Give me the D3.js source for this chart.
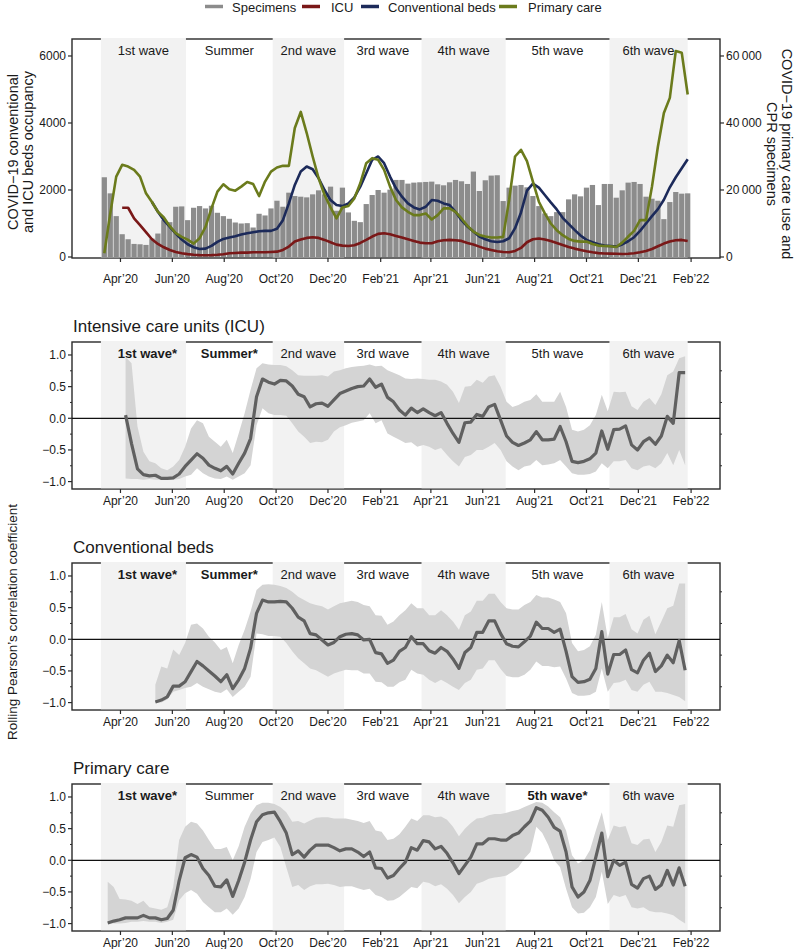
<!DOCTYPE html>
<html><head><meta charset="utf-8">
<script src="https://cdn.jsdelivr.net/npm/d3@7"></script>
<style>body{margin:0;background:#fff} svg{display:block;font-family:"Liberation Sans",Arial,Helvetica,sans-serif}</style>
</head><body><svg id="c" width="797" height="949"></svg>
<script>
// ---------- DATA ----------
const topStart = "2020-03-13";   // weekly points of the top panel
const corrStart = "2020-03-17";  // weekly points of the correlation panels

const specimens = [23800,19000,12200,6800,5300,3900,3800,3600,5500,7000,
11000,10400,15000,15100,11000,14700,15200,14500,15300,13200,
12200,11400,10300,10000,10100,8800,12900,12400,14500,16800,
15000,19200,18200,18000,17800,18700,19900,18700,21000,13800,
20700,13300,10800,10400,15800,18500,20000,19200,20100,23000,
23000,21900,22200,22300,22400,22500,21700,21400,22300,23000,
22600,21800,25500,19700,22900,24300,24400,16700,20700,21300,
21500,20800,18200,15200,13000,12200,13400,13400,17200,18700,
18100,20700,21500,15500,21800,21800,17700,19900,22200,22400,
21800,18000,17400,16800,11300,16400,19400,18900,19000];

const icuBeds = [null,null,null,1470,1470,1150,950,740,530,390,
290,210,150,110,85,65,55,50,55,65,
80,110,120,130,130,140,140,140,150,160,
210,310,460,520,570,590,570,510,440,370,
340,330,350,420,510,610,690,710,680,630,
580,530,480,430,410,410,470,500,510,500,
480,420,370,310,250,210,170,150,140,180,
270,440,530,550,520,480,420,360,300,250,
210,170,140,115,105,100,95,90,95,110,
140,180,240,320,400,460,500,510,480];

const convBeds = [null,null,null,null,null,null,null,null,1640,1350,
1100,900,700,520,380,290,240,250,330,450,
540,580,620,670,710,740,770,780,780,840,
1100,1600,2150,2550,2700,2620,2350,2000,1700,1550,
1520,1600,1780,2100,2500,2900,3000,2800,2400,2050,
1800,1600,1480,1420,1500,1700,1680,1600,1550,1350,
1100,910,760,610,530,470,450,470,560,860,
1330,1980,2190,2070,1850,1630,1420,1170,990,810,
640,510,440,380,340,330,310,375,470,590,
780,1000,1220,1430,1710,2080,2380,2650,2920];

const primaryCare = [1100,13000,24000,27500,27000,26000,24000,19000,16400,13500,
11800,9200,7100,6000,5200,4000,5600,9000,14500,19500,
21700,20200,19800,21000,22400,21800,18200,22500,25500,26700,
27200,27200,38500,43300,37000,30000,23500,18500,14800,11500,
14800,15200,17500,22000,28000,29500,29000,26000,21000,17000,
14800,13500,12500,12500,13000,11200,12500,14500,14500,13500,
11500,9300,7600,6600,6100,5800,5800,6000,17000,30000,
32000,28600,22500,16500,13000,10000,8000,6500,5400,4800,
4600,4600,3900,3400,3300,3200,3000,4300,6100,7800,
11000,11000,21000,33000,43000,47500,61500,61000,48500];

const icuR = [null,null,null,0.05,-0.40,-0.80,-0.89,-0.91,-0.90,-0.95,
-0.95,-0.94,-0.88,-0.76,-0.66,-0.56,-0.63,-0.74,-0.79,-0.83,
-0.76,-0.88,-0.71,-0.55,-0.32,0.34,0.62,0.57,0.54,0.60,
0.59,0.51,0.38,0.34,0.18,0.23,0.24,0.19,0.29,0.39,
0.43,0.47,0.50,0.51,0.62,0.49,0.54,0.33,0.26,0.13,
0.05,0.16,0.09,0.15,0.09,0.04,0.09,-0.08,-0.24,-0.38,
-0.07,-0.06,0.06,0.03,0.18,0.22,-0.03,-0.28,-0.38,-0.43,
-0.39,-0.34,-0.21,-0.34,-0.34,-0.33,-0.13,-0.37,-0.68,-0.70,
-0.68,-0.64,-0.55,-0.20,-0.49,-0.18,-0.17,-0.12,-0.42,-0.50,
-0.37,-0.31,-0.41,-0.28,0.03,-0.08,0.72,0.72];
const icuHi = [null,null,null,0.97,0.87,-0.13,-0.53,-0.68,-0.71,-0.79,
-0.82,-0.76,-0.66,-0.45,-0.16,-0.03,-0.08,-0.29,-0.37,-0.45,
-0.34,-0.55,-0.24,0.08,0.45,0.79,0.87,0.85,0.84,0.84,
0.82,0.76,0.68,0.67,0.67,0.67,0.68,0.66,0.74,0.76,
0.79,0.81,0.82,0.83,0.85,0.82,0.83,0.76,0.72,0.68,
0.63,0.62,0.63,0.62,0.61,0.61,0.58,0.53,0.42,0.24,
0.50,0.51,0.61,0.56,0.66,0.68,0.50,0.26,0.18,0.21,
0.26,0.29,0.38,0.26,0.26,0.26,0.42,0.18,-0.18,-0.21,
-0.18,-0.11,0.05,0.37,0.11,0.42,0.41,0.42,0.19,0.13,
0.26,0.32,0.21,0.38,0.68,0.74,0.95,0.98];
const icuLo = [null,null,null,-0.95,-0.96,-0.96,-0.97,-0.96,-0.97,-0.97,
-0.97,-0.97,-0.96,-0.92,-0.89,-0.79,-0.87,-0.92,-0.95,-0.96,
-0.92,-0.97,-0.92,-0.87,-0.74,-0.11,0.16,0.08,0.05,0.05,
0.04,-0.08,-0.21,-0.29,-0.39,-0.37,-0.38,-0.34,-0.21,-0.14,
-0.11,-0.07,-0.05,-0.03,0.08,-0.08,-0.03,-0.24,-0.29,-0.34,
-0.39,-0.38,-0.45,-0.42,-0.45,-0.50,-0.47,-0.58,-0.68,-0.76,
-0.61,-0.58,-0.50,-0.50,-0.45,-0.39,-0.50,-0.68,-0.76,-0.82,
-0.76,-0.74,-0.66,-0.74,-0.73,-0.71,-0.66,-0.76,-0.87,-0.89,
-0.89,-0.88,-0.84,-0.71,-0.79,-0.68,-0.68,-0.66,-0.79,-0.82,
-0.76,-0.74,-0.79,-0.71,-0.55,-0.74,-0.50,-0.74];

const convR = [null,null,null,null,null,null,null,null,-0.99,-0.96,
-0.91,-0.74,-0.74,-0.67,-0.51,-0.35,-0.42,-0.50,-0.58,-0.67,
-0.56,-0.78,-0.64,-0.46,-0.14,0.41,0.62,0.59,0.59,0.60,
0.59,0.49,0.35,0.29,0.09,0.07,-0.01,-0.09,-0.05,0.04,
0.08,0.09,0.07,-0.01,0.00,-0.21,-0.23,-0.38,-0.33,-0.19,
-0.13,0.04,-0.07,-0.07,-0.18,-0.22,-0.13,-0.19,-0.31,-0.46,
-0.21,-0.13,0.11,0.11,0.29,0.29,0.09,-0.07,-0.11,-0.12,
-0.04,0.05,0.27,0.17,0.17,0.11,0.16,-0.19,-0.59,-0.68,
-0.67,-0.63,-0.46,0.12,-0.55,-0.24,-0.24,-0.17,-0.48,-0.53,
-0.33,-0.22,-0.51,-0.42,-0.25,-0.37,-0.02,-0.49];
const convHi = [null,null,null,null,null,null,null,null,-0.72,-0.43,
-0.46,-0.16,-0.25,-0.06,0.23,0.25,0.17,0.04,-0.05,-0.17,
-0.12,-0.38,-0.09,0.15,0.44,0.78,0.86,0.87,0.86,0.84,
0.81,0.75,0.67,0.62,0.57,0.54,0.52,0.47,0.52,0.57,
0.59,0.61,0.59,0.54,0.52,0.38,0.37,0.23,0.28,0.38,
0.46,0.57,0.49,0.49,0.38,0.38,0.46,0.38,0.28,0.15,
0.38,0.44,0.61,0.61,0.72,0.72,0.59,0.49,0.47,0.47,
0.54,0.59,0.70,0.66,0.66,0.63,0.59,0.41,-0.06,-0.19,
-0.17,-0.11,0.07,0.59,0.02,0.35,0.35,0.40,0.16,0.09,
0.31,0.37,0.08,0.28,0.49,0.53,0.88,0.88];
const convLo = [null,null,null,null,null,null,null,null,-1.00,-1.00,
-0.95,-0.83,-0.80,-0.77,-0.75,-0.69,-0.75,-0.79,-0.83,-0.85,
-0.79,-0.91,-0.83,-0.75,-0.59,0.09,0.08,0.05,0.05,0.04,
-0.06,-0.19,-0.30,-0.38,-0.46,-0.49,-0.54,-0.59,-0.54,-0.51,
-0.48,-0.49,-0.49,-0.54,-0.54,-0.67,-0.68,-0.75,-0.75,-0.68,
-0.64,-0.48,-0.54,-0.56,-0.64,-0.69,-0.64,-0.69,-0.75,-0.80,
-0.69,-0.64,-0.48,-0.46,-0.33,-0.33,-0.47,-0.58,-0.60,-0.60,
-0.56,-0.48,-0.35,-0.42,-0.42,-0.44,-0.43,-0.62,-0.85,-0.89,
-0.89,-0.88,-0.83,-0.46,-0.83,-0.69,-0.68,-0.64,-0.80,-0.83,
-0.72,-0.67,-0.83,-0.83,-0.85,-0.88,-0.91,-0.98];

const pcR = [-0.99,-0.96,-0.94,-0.91,-0.91,-0.91,-0.87,-0.91,-0.91,-0.94,
-0.92,-0.79,-0.32,0.04,0.09,0.05,-0.13,-0.24,-0.41,-0.42,
-0.31,-0.57,-0.32,-0.03,0.32,0.61,0.72,0.75,0.76,0.61,
0.43,0.09,0.15,0.05,0.16,0.24,0.24,0.24,0.20,0.15,
0.18,0.18,0.13,0.06,0.13,-0.12,-0.13,-0.28,-0.24,-0.13,
-0.03,0.20,0.16,0.31,0.29,0.18,0.22,0.11,-0.04,-0.21,
-0.08,0.05,0.26,0.26,0.34,0.34,0.32,0.32,0.39,0.43,
0.53,0.62,0.83,0.79,0.68,0.52,0.46,0.13,-0.42,-0.58,
-0.50,-0.32,0.05,0.43,-0.26,0.00,-0.08,-0.03,-0.38,-0.44,
-0.29,-0.25,-0.46,-0.39,-0.16,-0.39,-0.12,-0.41];
const pcHi = [-0.34,-0.42,-0.61,-0.62,-0.64,-0.69,-0.64,-0.74,-0.76,-0.78,
-0.74,-0.42,0.32,0.53,0.61,0.58,0.47,0.32,0.18,0.18,
0.21,0.00,0.22,0.53,0.74,0.87,0.91,0.91,0.89,0.84,
0.76,0.61,0.62,0.58,0.63,0.67,0.68,0.68,0.66,0.66,
0.66,0.64,0.62,0.59,0.62,0.47,0.45,0.32,0.34,0.41,
0.53,0.66,0.62,0.71,0.71,0.68,0.69,0.64,0.53,0.38,
0.50,0.59,0.66,0.67,0.71,0.73,0.73,0.75,0.78,0.80,
0.84,0.88,0.92,0.91,0.85,0.76,0.68,0.47,0.08,-0.05,
0.00,0.16,0.47,0.76,0.32,0.55,0.52,0.54,0.27,0.24,
0.33,0.34,0.13,0.29,0.55,0.53,0.87,0.89];
const pcLo = [-1.00,-1.00,-1.00,-0.99,-0.97,-0.97,-0.96,-0.97,-0.97,-0.99,
-0.97,-0.94,-0.63,-0.52,-0.47,-0.53,-0.66,-0.74,-0.82,-0.82,
-0.76,-0.86,-0.76,-0.58,-0.29,0.13,0.29,0.32,0.36,0.21,
-0.11,-0.42,-0.39,-0.47,-0.41,-0.38,-0.38,-0.37,-0.39,-0.42,
-0.41,-0.41,-0.44,-0.47,-0.45,-0.55,-0.58,-0.64,-0.63,-0.58,
-0.50,-0.42,-0.44,-0.34,-0.36,-0.41,-0.38,-0.45,-0.55,-0.68,
-0.58,-0.50,-0.37,-0.34,-0.29,-0.27,-0.26,-0.24,-0.18,-0.11,
0.03,0.13,0.53,0.43,0.24,0.00,-0.11,-0.45,-0.74,-0.84,
-0.83,-0.74,-0.58,-0.18,-0.69,-0.55,-0.58,-0.55,-0.74,-0.76,
-0.74,-0.80,-0.82,-0.82,-0.84,-0.87,-0.94,-1.00];

const waveNames = ["1st wave","Summer","2nd wave","3rd wave","4th wave","5th wave","6th wave"];
const waveStart = ["2020-03-09","2020-06-17","2020-09-27","2020-12-20","2021-03-21","2021-06-28","2021-10-28"];
const waveEnd   = ["2020-06-17","2020-09-27","2020-12-20","2021-03-21","2021-06-28","2021-10-28","2022-01-28"];
const waveShaded = [true,false,true,false,true,false,true];

const tickDates = ["2020-04-01","2020-06-01","2020-08-01","2020-10-01","2020-12-01","2021-02-01",
                   "2021-04-01","2021-06-01","2021-08-01","2021-10-01","2021-12-01","2022-02-01"];
const tickLabels = ["Apr’20","Jun’20","Aug’20","Oct’20","Dec’20","Feb’21",
                    "Apr’21","Jun’21","Aug’21","Oct’21","Dec’21","Feb’22"];
const leftTicks = [0,2000,4000,6000];
const rightTicks = [0,20000,40000,60000];
const corrTicks = [-1,-0.5,0,0.5,1];
const corrMinor = [-0.75,-0.25,0.25,0.75];

const legendNames = ["Specimens","ICU","Conventional beds","Primary care"];
const seriesColors = ["#8c8c8c","#7a1818","#1c2a5a","#6b7b1c"];

const corrTitles = ["Intensive care units (ICU)","Conventional beds","Primary care"];
const corrBold = [["1st wave","Summer"],["1st wave","Summer"],["1st wave","5th wave"]];

// ---------- DRAW ----------
const svg = d3.select("#c");
const parse = d3.utcParse("%Y-%m-%d");
const X0 = 72, X1 = 720;
const x = d3.scaleUtc().domain([parse("2020-02-04"), parse("2022-03-07")]).range([X0, X1]);
const topDates = specimens.map((_, i) => d3.utcDay.offset(parse(topStart), 7 * i));
const corrDates = pcR.map((_, j) => d3.utcDay.offset(parse(corrStart), 7 * j));
const ink = "#1a1a1a", border = "#2a2a2a";

function shades(g, top, bottom) {
  waveNames.forEach((w, k) => {
    if (!waveShaded[k]) return;
    g.append("rect").attr("x", x(parse(waveStart[k]))).attr("y", top - 1)
      .attr("width", x(parse(waveEnd[k])) - x(parse(waveStart[k])))
      .attr("height", bottom - top + 0.3).attr("fill", "#f2f2f2");
  });
}
function boxAndXAxis(g, top, bottom, labelY) {
  g.append("rect").attr("x", X0).attr("y", top).attr("width", X1 - X0).attr("height", bottom - top)
    .attr("fill", "none").attr("stroke", border).attr("stroke-width", 1.4);
  tickDates.forEach((t, k) => {
    const xx = x(parse(t));
    g.append("line").attr("x1", xx).attr("x2", xx).attr("y1", bottom).attr("y2", bottom + 4)
      .attr("stroke", border).attr("stroke-width", 1.2);
    g.append("text").attr("x", xx).attr("y", labelY).attr("text-anchor", "middle")
      .attr("font-size", 12).attr("fill", ink).text(tickLabels[k]);
  });
}

// ----- top panel -----
const T0 = 39, B0 = 258;
const yL = d3.scaleLinear().domain([-30, 6507]).range([B0, T0]);
const yR = d3.scaleLinear().domain([-300, 65070]).range([B0, T0]);
const gTop = svg.append("g");
gTop.append("rect").attr("x", X0).attr("y", T0).attr("width", X1 - X0).attr("height", B0 - T0)
  .attr("fill", "none").attr("stroke", border).attr("stroke-width", 1.4);
shades(gTop, T0, B0);
waveNames.forEach((w, k) => {
  const cx = (x(parse(waveStart[k])) + x(parse(waveEnd[k]))) / 2;
  gTop.append("text").attr("x", cx).attr("y", T0 + 15.5).attr("text-anchor", "middle")
    .attr("font-size", 13).attr("fill", ink).text(w);
});
gTop.selectAll("rect.bar").data(specimens).enter().append("rect").attr("class", "bar")
  .attr("x", (d, i) => x(d3.utcHour.offset(topDates[i], -74)))
  .attr("width", (d, i) => x(d3.utcHour.offset(topDates[i], 74)) - x(d3.utcHour.offset(topDates[i], -74)))
  .attr("y", d => yR(d)).attr("height", d => yR(0) - yR(d)).attr("fill", seriesColors[0]);
const mkLine = (sc) => d3.line().defined(d => d != null).x((d, i) => x(topDates[i])).y(d => sc(d));
[[icuBeds, yL, 1], [convBeds, yL, 2], [primaryCare, yR, 3]].forEach(([arr, sc, c]) => {
  gTop.append("path").attr("d", mkLine(sc)(arr)).attr("fill", "none")
    .attr("stroke", seriesColors[c]).attr("stroke-width", 2.6).attr("stroke-linejoin", "round");
});
// bottom axis of the top panel
tickDates.forEach((t, k) => {
  const xx = x(parse(t));
  gTop.append("line").attr("x1", xx).attr("x2", xx).attr("y1", B0).attr("y2", B0 + 4)
    .attr("stroke", border).attr("stroke-width", 1.2);
  gTop.append("text").attr("x", xx).attr("y", 283).attr("text-anchor", "middle")
    .attr("font-size", 12).attr("fill", ink).text(tickLabels[k]);
});
leftTicks.forEach(v => {
  gTop.append("line").attr("x1", X0 - 4).attr("x2", X0).attr("y1", yL(v)).attr("y2", yL(v)).attr("stroke", border).attr("stroke-width", 1.2);
  gTop.append("text").attr("x", X0 - 6).attr("y", yL(v) + 4.3).attr("text-anchor", "end")
    .attr("font-size", 12).attr("fill", ink).text(v);
});
const fmtR = d => d === 0 ? "0" : d3.format(",")(d).replace(",", "\u2009");
rightTicks.forEach(v => {
  gTop.append("line").attr("x1", X1).attr("x2", X1 + 4).attr("y1", yR(v)).attr("y2", yR(v)).attr("stroke", border).attr("stroke-width", 1.2);
  gTop.append("text").attr("x", X1 + 6).attr("y", yR(v) + 4.3).attr("text-anchor", "start")
    .attr("font-size", 12).attr("fill", ink).text(fmtR(v));
});
// axis titles
[["COVID−19 conventional", 13], ["and ICU beds occupancy", 28]].forEach(([t, xx]) => {
  gTop.append("text").attr("transform", `translate(${xx},152) rotate(-90)`).attr("text-anchor", "middle")
    .attr("dominant-baseline", "central").attr("font-size", 14.5).attr("fill", ink).text(t);
});
[["COVID−19 primary care use and", 787], ["CPR specimens", 772]].forEach(([t, xx]) => {
  gTop.append("text").attr("transform", `translate(${xx},154) rotate(90)`).attr("text-anchor", "middle")
    .attr("dominant-baseline", "central").attr("font-size", 14.5).attr("fill", ink).text(t);
});
// legend
const legSw = [205, 302, 361, 499], legTx = [232, 331, 388, 528];
legendNames.forEach((n, k) => {
  svg.append("line").attr("x1", legSw[k]).attr("x2", legSw[k] + 18).attr("y1", 6.5).attr("y2", 6.5)
    .attr("stroke", seriesColors[k]).attr("stroke-width", 3.5);
  svg.append("text").attr("x", legTx[k]).attr("y", 11.5).attr("font-size", 13).attr("fill", ink).text(n);
});

// ----- correlation panels -----
const corrSets = [[icuR, icuLo, icuHi], [convR, convLo, convHi], [pcR, pcLo, pcHi]];
const panelTops = [342, 563, 784];
const PH = 147;
corrSets.forEach(([r, lo, hi], p) => {
  const T = panelTops[p], B = T + PH;
  const y = d3.scaleLinear().domain([-1.117, 1.205]).range([B, T]);
  const g = svg.append("g");
  boxAndXAxis(g, T, B, B + 16);
  shades(g, T, B);
  const area = d3.area().defined((d, j) => lo[j] != null && hi[j] != null)
    .x((d, j) => x(corrDates[j])).y0((d, j) => y(lo[j])).y1((d, j) => y(hi[j]));
  g.append("path").attr("d", area(r)).attr("fill", "#d4d4d4");
  g.append("line").attr("x1", X0).attr("x2", X1).attr("y1", y(0)).attr("y2", y(0))
    .attr("stroke", "#111").attr("stroke-width", 1.3);
  const line = d3.line().defined(d => d != null).x((d, j) => x(corrDates[j])).y(d => y(d));
  g.append("path").attr("d", line(r)).attr("fill", "none").attr("stroke", "#606060")
    .attr("stroke-width", 3.2).attr("stroke-linejoin", "round");
  waveNames.forEach((w, k) => {
    const cx = (x(parse(waveStart[k])) + x(parse(waveEnd[k]))) / 2;
    const b = corrBold[p].includes(w);
    g.append("text").attr("x", cx + (k === 0 ? 4 : 0)).attr("y", T + 15.5).attr("text-anchor", "middle")
      .attr("font-size", 13).attr("font-weight", b ? "bold" : "normal").attr("fill", ink)
      .text(b ? w + "*" : w);
  });
  corrTicks.forEach(v => {
    g.append("line").attr("x1", X0 - 4).attr("x2", X0).attr("y1", y(v)).attr("y2", y(v)).attr("stroke", border).attr("stroke-width", 1.2);
    g.append("text").attr("x", X0 - 6).attr("y", y(v) + 4.3).attr("text-anchor", "end")
      .attr("font-size", 12).attr("fill", ink).text(d3.format(".1f")(v));
  });
  corrMinor.forEach(v => {
    g.append("line").attr("x1", X0 - 2).attr("x2", X0).attr("y1", y(v)).attr("y2", y(v)).attr("stroke", border).attr("stroke-width", 1);
    g.append("line").attr("x1", X1).attr("x2", X1 + 2).attr("y1", y(v)).attr("y2", y(v)).attr("stroke", border).attr("stroke-width", 1);
  });
  g.append("text").attr("x", 73).attr("y", T - 10).attr("font-size", 17).attr("fill", ink).text(corrTitles[p]);
});
svg.append("text").attr("transform", "translate(12,622) rotate(-90)").attr("text-anchor", "middle")
  .attr("dominant-baseline", "central").attr("font-size", 13.5).attr("fill", ink)
  .text("Rolling Pearson’s correlation coefficient");
</script></body></html>
